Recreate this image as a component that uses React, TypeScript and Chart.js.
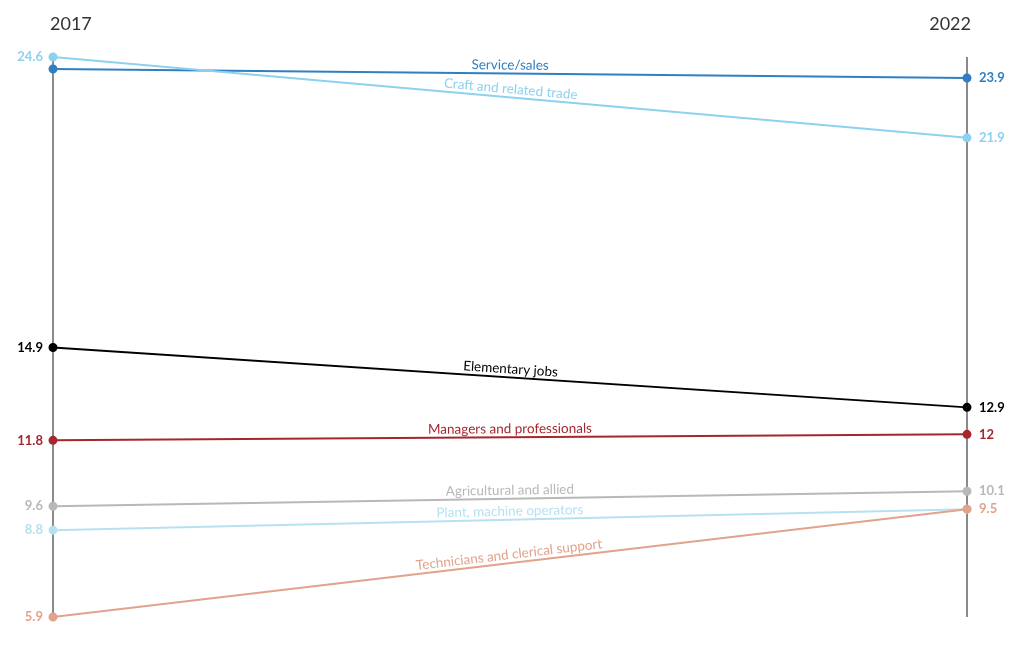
import React, { useEffect, useRef } from "react";
import { Chart, registerables } from "chart.js";

Chart.register(...registerables);

const years = ["2017", "2022"];
const seriesNames = [
  "Craft and related trade",
  "Service/sales",
  "Elementary jobs",
  "Managers and professionals",
  "Agricultural and allied",
  "Technicians and clerical support",
  "Plant, machine operators",
];
const craft = [24.6, 21.9];
const service = [24.2, 23.9];
const elementary = [14.9, 12.9];
const managers = [11.8, 12];
const agricultural = [9.6, 10.1];
const technicians = [5.9, 9.5];
const plant = [8.8, 9.5];
const seriesValues = [craft, service, elementary, managers, agricultural, technicians, plant];
const seriesColors = ["#8dd1ef", "#2f7fc1", "#000000", "#a6262d", "#b8b8b8", "#e2a28c", "#b6e1f1"];

const FONT = "Lato, 'Open Sans', sans-serif";

const slopePlugin = {
  id: "slopeLabels",
  beforeDatasetsDraw(chart: any) {
    const { ctx, chartArea } = chart;
    ctx.save();
    ctx.strokeStyle = "#8a8a8a";
    ctx.lineWidth = 2;
    ctx.beginPath();
    ctx.moveTo(chartArea.left, chartArea.top);
    ctx.lineTo(chartArea.left, chartArea.bottom);
    ctx.moveTo(chartArea.right, chartArea.top);
    ctx.lineTo(chartArea.right, chartArea.bottom);
    ctx.stroke();
    ctx.fillStyle = "#333";
    ctx.font = `18px ${FONT}`;
    ctx.textBaseline = "middle";
    ctx.textAlign = "left";
    ctx.fillText(years[0], chartArea.left - 3, 24);
    ctx.textAlign = "right";
    ctx.fillText(years[1], chartArea.right + 4, 24);
    ctx.restore();
  },
  afterDatasetsDraw(chart: any) {
    const { ctx } = chart;
    ctx.save();
    const usedLeft: number[] = [];
    const usedRight: number[] = [];
    chart.data.datasets.forEach((ds: any, i: number) => {
      const meta = chart.getDatasetMeta(i);
      const p0 = meta.data[0];
      const p1 = meta.data[1];
      const color = ds.borderColor;
      ctx.font = `bold 13px ${FONT}`;
      ctx.textBaseline = "middle";
      ctx.fillStyle = color;
      if (!usedLeft.some((y) => Math.abs(y - p0.y) < 14)) {
        ctx.textAlign = "right";
        ctx.fillText(String(ds.data[0]), p0.x - 10, p0.y);
        usedLeft.push(p0.y);
      }
      if (!usedRight.some((y) => Math.abs(y - p1.y) < 14)) {
        ctx.textAlign = "left";
        ctx.fillText(String(ds.data[1]), p1.x + 12, p1.y);
        usedRight.push(p1.y);
      }
      const mx = (p0.x + p1.x) / 2;
      const my = (p0.y + p1.y) / 2;
      const ang = Math.atan2(p1.y - p0.y, p1.x - p0.x);
      ctx.translate(mx, my);
      ctx.rotate(ang);
      ctx.font = `13.5px ${FONT}`;
      ctx.textAlign = "center";
      ctx.textBaseline = "alphabetic";
      ctx.fillText(ds.label, 0, -4);
      ctx.setTransform(1, 0, 0, 1, 0, 0);
    });
    ctx.restore();
  },
};

export default function App() {
  const ref = useRef<HTMLCanvasElement>(null);
  useEffect(() => {
    if (!ref.current) return;
    const chart = new Chart(ref.current, {
      type: "line",
      data: {
        labels: years,
        datasets: seriesNames.map((name, i) => ({
          label: name,
          data: seriesValues[i],
          borderColor: seriesColors[i],
          backgroundColor: seriesColors[i],
          pointBackgroundColor: seriesColors[i],
          pointBorderColor: seriesColors[i],
          borderWidth: 2,
          pointRadius: 3.5,
          fill: false,
          tension: 0,
          clip: false as any,
        })),
      },
      options: {
        responsive: false,
        animation: false,
        layout: { padding: { left: 53, right: 53, top: 57, bottom: 33 } },
        plugins: { legend: { display: false }, tooltip: { enabled: false } },
        scales: {
          x: { display: false, offset: false },
          y: { display: false, min: 5.9, max: 24.6 },
        },
      },
      plugins: [slopePlugin],
    });
    return () => chart.destroy();
  }, []);
  return (
    <div style={{ position: "absolute", left: 0, top: 0, width: 1020, height: 650, background: "#fff" }}>
      <canvas ref={ref} width={1020} height={650} style={{ width: 1020, height: 650 }} />
    </div>
  );
}
